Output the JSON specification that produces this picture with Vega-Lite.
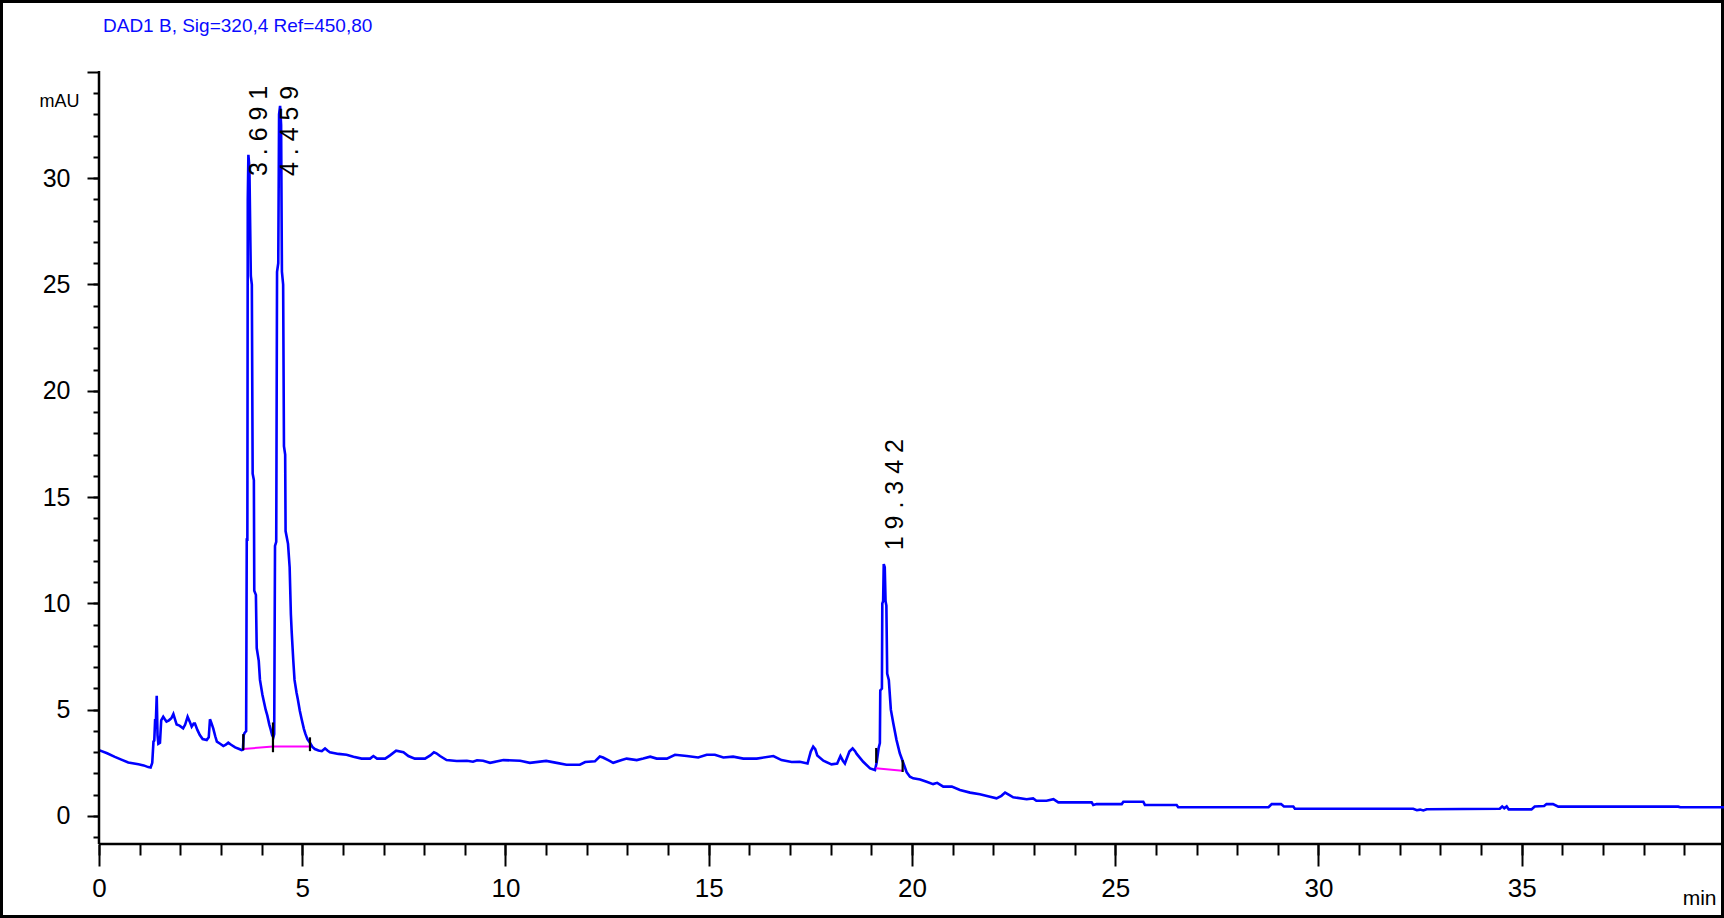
{
  "$schema": "https://vega.github.io/schema/vega-lite/v6.json",
  "width": 1724,
  "height": 918,
  "autosize": "none",
  "padding": 0,
  "background": "white",
  "config": {"view": {"stroke": "#000000", "strokeWidth": 6}},
  "title": {
    "text": "DAD1 B, Sig=320,4 Ref=450,80",
    "anchor": "start",
    "frame": "group",
    "orient": "top",
    "offset": 0,
    "dx": 103,
    "dy": 51,
    "baseline": "alphabetic",
    "color": "#0a0aff",
    "font": "Liberation Sans, Arial, sans-serif",
    "fontSize": 19,
    "fontWeight": "normal"
  },
  "resolve": {"axis": {"x": "independent", "y": "independent"}},
  "datasets": {
    "trace": [
      {"t":0.00,"v":3.10},{"t":0.20,"v":2.95},{"t":0.39,"v":2.78},{"t":0.55,"v":2.65},{"t":0.72,"v":2.52},{"t":0.97,"v":2.43},{"t":1.10,"v":2.38},{"t":1.21,"v":2.30},{"t":1.27,"v":2.28},{"t":1.31,"v":2.50},{"t":1.34,"v":3.50},{"t":1.36,"v":3.55},{"t":1.38,"v":4.50},{"t":1.40,"v":4.50},{"t":1.42,"v":5.65},{"t":1.44,"v":3.80},{"t":1.46,"v":3.40},{"t":1.50,"v":3.45},{"t":1.53,"v":4.50},{"t":1.58,"v":4.67},{"t":1.62,"v":4.55},{"t":1.66,"v":4.44},{"t":1.72,"v":4.50},{"t":1.78,"v":4.60},{"t":1.83,"v":4.80},{"t":1.87,"v":4.55},{"t":1.91,"v":4.30},{"t":1.98,"v":4.25},{"t":2.07,"v":4.12},{"t":2.12,"v":4.30},{"t":2.18,"v":4.67},{"t":2.23,"v":4.45},{"t":2.28,"v":4.20},{"t":2.33,"v":4.35},{"t":2.36,"v":4.35},{"t":2.42,"v":4.05},{"t":2.48,"v":3.81},{"t":2.55,"v":3.62},{"t":2.65,"v":3.57},{"t":2.70,"v":3.70},{"t":2.73,"v":4.55},{"t":2.76,"v":4.40},{"t":2.81,"v":4.12},{"t":2.86,"v":3.75},{"t":2.90,"v":3.50},{"t":2.98,"v":3.40},{"t":3.06,"v":3.29},{"t":3.12,"v":3.35},{"t":3.18,"v":3.45},{"t":3.25,"v":3.35},{"t":3.35,"v":3.23},{"t":3.45,"v":3.15},{"t":3.51,"v":3.10},{"t":3.54,"v":3.12},{"t":3.56,"v":3.80},{"t":3.58,"v":3.90},{"t":3.62,"v":4.00},{"t":3.635,"v":13.0},{"t":3.65,"v":13.0},{"t":3.66,"v":29.0},{"t":3.675,"v":31.1},{"t":3.70,"v":30.5},{"t":3.735,"v":25.4},{"t":3.76,"v":25.0},{"t":3.78,"v":16.1},{"t":3.81,"v":15.8},{"t":3.82,"v":10.6},{"t":3.86,"v":10.4},{"t":3.88,"v":7.9},{"t":3.93,"v":7.3},{"t":3.96,"v":6.4},{"t":4.02,"v":5.7},{"t":4.06,"v":5.35},{"t":4.10,"v":5.0},{"t":4.14,"v":4.73},{"t":4.19,"v":4.3},{"t":4.22,"v":4.1},{"t":4.26,"v":3.8},{"t":4.29,"v":3.70},{"t":4.31,"v":3.85},{"t":4.33,"v":12.7},{"t":4.36,"v":12.9},{"t":4.38,"v":25.6},{"t":4.41,"v":26.0},{"t":4.43,"v":33.0},{"t":4.455,"v":33.4},{"t":4.48,"v":32.5},{"t":4.50,"v":25.6},{"t":4.53,"v":25.0},{"t":4.55,"v":17.4},{"t":4.58,"v":17.0},{"t":4.59,"v":13.4},{"t":4.65,"v":12.8},{"t":4.69,"v":11.7},{"t":4.72,"v":9.5},{"t":4.74,"v":8.67},{"t":4.78,"v":7.3},{"t":4.81,"v":6.4},{"t":4.86,"v":5.8},{"t":4.89,"v":5.5},{"t":4.94,"v":4.95},{"t":4.98,"v":4.6},{"t":5.04,"v":4.1},{"t":5.08,"v":3.85},{"t":5.13,"v":3.6},{"t":5.19,"v":3.45},{"t":5.25,"v":3.25},{"t":5.31,"v":3.15},{"t":5.40,"v":3.08},{"t":5.48,"v":3.05},{"t":5.56,"v":3.18},{"t":5.62,"v":3.08},{"t":5.68,"v":3.00},{"t":5.89,"v":2.92},{"t":6.09,"v":2.88},{"t":6.26,"v":2.79},{"t":6.46,"v":2.70},{"t":6.67,"v":2.70},{"t":6.75,"v":2.82},{"t":6.84,"v":2.70},{"t":7.04,"v":2.70},{"t":7.16,"v":2.85},{"t":7.31,"v":3.07},{"t":7.49,"v":3.00},{"t":7.61,"v":2.82},{"t":7.77,"v":2.70},{"t":8.02,"v":2.70},{"t":8.15,"v":2.85},{"t":8.24,"v":3.00},{"t":8.30,"v":2.95},{"t":8.39,"v":2.82},{"t":8.55,"v":2.63},{"t":8.80,"v":2.59},{"t":9.05,"v":2.60},{"t":9.20,"v":2.55},{"t":9.30,"v":2.62},{"t":9.45,"v":2.60},{"t":9.62,"v":2.50},{"t":9.95,"v":2.63},{"t":10.36,"v":2.60},{"t":10.60,"v":2.50},{"t":11.00,"v":2.59},{"t":11.26,"v":2.50},{"t":11.50,"v":2.41},{"t":11.83,"v":2.41},{"t":11.96,"v":2.54},{"t":12.20,"v":2.57},{"t":12.32,"v":2.80},{"t":12.40,"v":2.75},{"t":12.55,"v":2.60},{"t":12.65,"v":2.50},{"t":12.86,"v":2.63},{"t":12.98,"v":2.70},{"t":13.23,"v":2.63},{"t":13.39,"v":2.70},{"t":13.56,"v":2.79},{"t":13.72,"v":2.70},{"t":13.97,"v":2.70},{"t":14.17,"v":2.88},{"t":14.46,"v":2.82},{"t":14.74,"v":2.75},{"t":14.95,"v":2.88},{"t":15.15,"v":2.88},{"t":15.36,"v":2.75},{"t":15.60,"v":2.79},{"t":15.85,"v":2.70},{"t":16.18,"v":2.70},{"t":16.59,"v":2.82},{"t":16.79,"v":2.63},{"t":17.04,"v":2.54},{"t":17.24,"v":2.55},{"t":17.43,"v":2.47},{"t":17.51,"v":3.03},{"t":17.57,"v":3.26},{"t":17.62,"v":3.15},{"t":17.67,"v":2.85},{"t":17.82,"v":2.60},{"t":18.02,"v":2.43},{"t":18.16,"v":2.47},{"t":18.24,"v":2.82},{"t":18.30,"v":2.60},{"t":18.35,"v":2.47},{"t":18.46,"v":3.03},{"t":18.54,"v":3.18},{"t":18.60,"v":3.05},{"t":18.64,"v":2.92},{"t":18.80,"v":2.55},{"t":18.97,"v":2.24},{"t":19.09,"v":2.16},{"t":19.13,"v":2.50},{"t":19.18,"v":3.20},{"t":19.21,"v":3.43},{"t":19.22,"v":5.90},{"t":19.26,"v":6.0},{"t":19.27,"v":10.0},{"t":19.29,"v":10.1},{"t":19.305,"v":11.85},{"t":19.33,"v":11.7},{"t":19.35,"v":10.1},{"t":19.37,"v":9.9},{"t":19.39,"v":6.7},{"t":19.43,"v":6.4},{"t":19.48,"v":5.0},{"t":19.54,"v":4.36},{"t":19.62,"v":3.57},{"t":19.70,"v":2.95},{"t":19.79,"v":2.48},{"t":19.87,"v":2.05},{"t":19.95,"v":1.85},{"t":20.03,"v":1.77},{"t":20.20,"v":1.72},{"t":20.36,"v":1.61},{"t":20.52,"v":1.50},{"t":20.62,"v":1.56},{"t":20.77,"v":1.38},{"t":20.98,"v":1.38},{"t":21.18,"v":1.22},{"t":21.43,"v":1.10},{"t":21.67,"v":1.02},{"t":21.92,"v":0.91},{"t":22.08,"v":0.83},{"t":22.20,"v":0.95},{"t":22.29,"v":1.10},{"t":22.40,"v":0.98},{"t":22.49,"v":0.88},{"t":22.82,"v":0.79},{"t":22.98,"v":0.83},{"t":23.06,"v":0.72},{"t":23.31,"v":0.72},{"t":23.48,"v":0.79},{"t":23.60,"v":0.64},{"t":24.42,"v":0.64},{"t":24.46,"v":0.52},{"t":24.54,"v":0.56},{"t":25.16,"v":0.56},{"t":25.20,"v":0.67},{"t":25.69,"v":0.67},{"t":25.73,"v":0.52},{"t":26.51,"v":0.52},{"t":26.55,"v":0.41},{"t":28.77,"v":0.41},{"t":28.85,"v":0.56},{"t":29.08,"v":0.56},{"t":29.15,"v":0.45},{"t":29.38,"v":0.45},{"t":29.42,"v":0.34},{"t":32.33,"v":0.34},{"t":32.42,"v":0.27},{"t":32.50,"v":0.30},{"t":32.58,"v":0.26},{"t":32.66,"v":0.32},{"t":34.46,"v":0.34},{"t":34.52,"v":0.45},{"t":34.57,"v":0.36},{"t":34.63,"v":0.45},{"t":34.68,"v":0.31},{"t":35.24,"v":0.31},{"t":35.32,"v":0.45},{"t":35.55,"v":0.47},{"t":35.61,"v":0.56},{"t":35.77,"v":0.56},{"t":35.90,"v":0.44},{"t":38.85,"v":0.44},{"t":38.90,"v":0.41},{"t":39.98,"v":0.41}
    ],
    "baselines": [
      {"t0":3.55,"v0":3.15,"t1":4.28,"v1":3.27},
      {"t0":4.28,"v0":3.27,"t1":5.19,"v1":3.27},
      {"t0":19.11,"v0":2.25,"t1":19.76,"v1":2.13}
    ],
    "markers": [
      {"t":3.55,"v0":3.1,"v1":3.85},
      {"t":4.28,"v0":3.0,"v1":4.4},
      {"t":5.19,"v0":3.05,"v1":3.7},
      {"t":19.12,"v0":2.5,"v1":3.2},
      {"t":19.77,"v0":2.07,"v1":2.63}
    ],
    "peaks": [
      {"rt":3.691,"height":31.1,"label":"3 . 6 9 1"},
      {"rt":4.459,"height":33.4,"label":"4 . 4 5 9"},
      {"rt":19.342,"height":11.85,"label":"1 9 . 3 4 2"}
    ],
    "axislines": [
      {"t0":0,"t1":39.98,"v0":-1.32,"v1":-1.32},
      {"t0":0,"t1":0,"v0":-1.32,"v1":35.04}
    ]
  },
  "layer": [
    {
      "data": {"name": "trace"},
      "mark": {"type": "line", "color": "#0000ff", "strokeWidth": 2.6, "interpolate": "linear"},
      "encoding": {
        "x": {
          "field": "t", "type": "quantitative",
          "scale": {"domain": [-2.4354, 39.976], "nice": false, "zero": false},
          "axis": {
            "orient": "bottom", "offset": -74, "domain": false, "grid": false,
            "values": [0,5,10,15,20,25,30,35],
            "tickSize": 22, "tickWidth": 2, "tickColor": "#000000",
            "labelFont": "Liberation Sans, Arial, sans-serif",
            "labelFontSize": 26, "labelColor": "#000000", "labelPadding": 9,
            "labelOverlap": false, "labelFlush": false, "labelBound": false,
            "title": "min", "titleX": 1716, "titleY": 60, "titleAlign": "right", "titleBaseline": "alphabetic",
            "titleFont": "Liberation Sans, Arial, sans-serif",
            "titleFontSize": 21, "titleFontWeight": "normal", "titleColor": "#000000"
          }
        },
        "y": {
          "field": "v", "type": "quantitative",
          "scale": {"domain": [-4.798, 38.382], "nice": false, "zero": false},
          "axis": {
            "orient": "left", "offset": -99, "domain": false, "grid": false,
            "values": [0,5,10,15,20,25,30,35],
            "tickSize": 12, "tickWidth": 2, "tickColor": "#000000",
            "labelExpr": "datum.value < 35 ? datum.label : ''",
            "labelFont": "Liberation Sans, Arial, sans-serif",
            "labelFontSize": 25, "labelColor": "#000000", "labelPadding": 17,
            "labelOverlap": false, "labelFlush": false, "labelBound": false,
            "title": "mAU", "titleAngle": 0, "titleX": -20, "titleY": 106, "titleAlign": "right", "titleBaseline": "alphabetic",
            "titleFont": "Liberation Sans, Arial, sans-serif",
            "titleFontSize": 18, "titleFontWeight": "normal", "titleColor": "#000000"
          }
        }
      }
    },
    {
      "data": {"name": "baselines"},
      "mark": {"type": "rule", "color": "#ff00ff", "strokeWidth": 2},
      "encoding": {
        "x": {"field": "t0", "type": "quantitative", "scale": {"domain": [-2.4354, 39.976], "nice": false, "zero": false}, "axis": null},
        "x2": {"field": "t1"},
        "y": {"field": "v0", "type": "quantitative", "scale": {"domain": [-4.798, 38.382], "nice": false, "zero": false}, "axis": null},
        "y2": {"field": "v1"}
      }
    },
    {
      "data": {"name": "markers"},
      "mark": {"type": "rule", "color": "#000000", "strokeWidth": 2.2},
      "encoding": {
        "x": {"field": "t", "type": "quantitative", "scale": {"domain": [-2.4354, 39.976], "nice": false, "zero": false}, "axis": null},
        "y": {"field": "v0", "type": "quantitative", "scale": {"domain": [-4.798, 38.382], "nice": false, "zero": false}, "axis": null},
        "y2": {"field": "v1"}
      }
    },
    {
      "data": {"name": "peaks"},
      "transform": [{"calculate": "min(datum.height + 0.65, 30.1)", "as": "label_v"}],
      "mark": {"type": "text", "angle": 270, "align": "left", "baseline": "top", "dy": -2, "font": "Liberation Sans, Arial, sans-serif", "fontSize": 25, "color": "#000000"},
      "encoding": {
        "x": {"field": "rt", "type": "quantitative", "scale": {"domain": [-2.4354, 39.976], "nice": false, "zero": false}, "axis": null},
        "y": {"field": "label_v", "type": "quantitative", "scale": {"domain": [-4.798, 38.382], "nice": false, "zero": false}, "axis": null},
        "text": {"field": "label"}
      }
    },
    {
      "data": {"name": "axislines"},
      "mark": {"type": "rule", "color": "#000000", "strokeWidth": 2.5},
      "encoding": {
        "x": {
          "field": "t0", "type": "quantitative",
          "scale": {"domain": [-2.4354, 39.976], "nice": false, "zero": false},
          "axis": {
            "orient": "bottom", "offset": -74, "domain": false, "grid": false, "labels": false, "title": null,
            "values": [0,1,2,3,4,5,6,7,8,9,10,11,12,13,14,15,16,17,18,19,20,21,22,23,24,25,26,27,28,29,30,31,32,33,34,35,36,37,38,39],
            "tickSize": 11, "tickWidth": 2, "tickColor": "#000000"
          }
        },
        "x2": {"field": "t1"},
        "y": {
          "field": "v0", "type": "quantitative",
          "scale": {"domain": [-4.798, 38.382], "nice": false, "zero": false},
          "axis": {
            "orient": "left", "offset": -99, "domain": false, "grid": false, "labels": false, "title": null,
            "values": [-1,0,1,2,3,4,5,6,7,8,9,10,11,12,13,14,15,16,17,18,19,20,21,22,23,24,25,26,27,28,29,30,31,32,33,34],
            "tickSize": 6, "tickWidth": 2, "tickColor": "#000000"
          }
        },
        "y2": {"field": "v1"}
      }
    }
  ]
}
